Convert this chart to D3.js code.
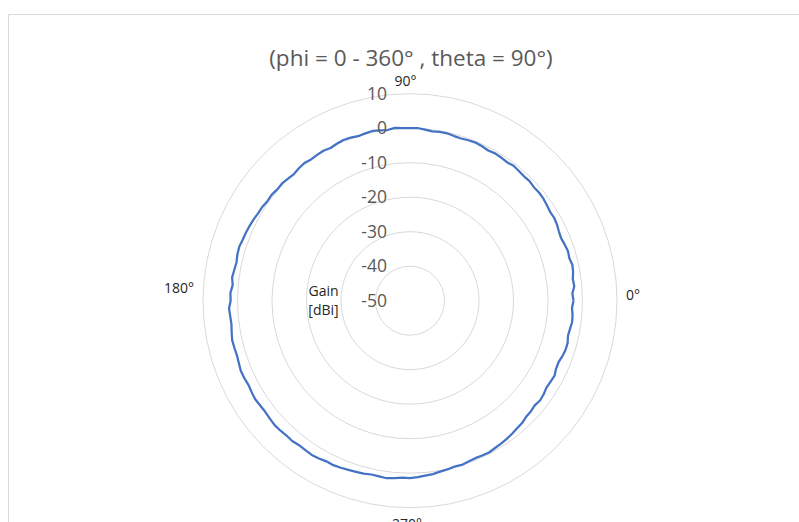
<!DOCTYPE html>
<html>
<head>
<meta charset="utf-8">
<script src="https://cdn.jsdelivr.net/npm/d3@7"></script>
<style>
  html, body { margin: 0; padding: 0; background: #fff; }
  svg { display: block; }
</style>
</head>
<body>
<svg id="chart" width="799" height="522"></svg>
<script>
// ---- data ----
const title = "(phi = 0 - 360° , theta = 90°)";
const radialTicks = [-50, -40, -30, -20, -10, 0, 10];
const angleLabels = ["0°", "90°", "180°", "270°"];
const angleLabelValues = [0, 90, 180, 270];
const axisTitle = ["Gain", "[dBi]"];
const phi = [
  0,2.5,5,7.5, 10,12.5,15,17.5, 20,22.5,25,27.5, 30,32.5,35,37.5,
  40,42.5,45,47.5, 50,52.5,55,57.5, 60,62.5,65,67.5, 70,72.5,75,77.5,
  80,82.5,85,87.5, 90,92.5,95,97.5, 100,102.5,105,107.5, 110,112.5,115,117.5,
  120,122.5,125,127.5, 130,132.5,135,137.5, 140,142.5,145,147.5, 150,152.5,155,157.5,
  160,162.5,165,167.5, 170,172.5,175,177.5, 180,182.5,185,187.5, 190,192.5,195,197.5,
  200,202.5,205,207.5, 210,212.5,215,217.5, 220,222.5,225,227.5, 230,232.5,235,237.5,
  240,242.5,245,247.5, 250,252.5,255,257.5, 260,262.5,265,267.5, 270,272.5,275,277.5,
  280,282.5,285,287.5, 290,292.5,295,297.5, 300,302.5,305,307.5, 310,312.5,315,317.5,
  320,322.5,325,327.5, 330,332.5,335,337.5, 340,342.5,345,347.5, 350,352.5,355,357.5,
  360];
const gain = [
  -2.6,-2.9,-2.2,-2.4, -2.0,-1.8,-2.2,-2.0, -2.3,-2.6,-2.4,-2.0, -1.8,-1.9,-1.6,-1.3,
  -1.2,-1.3,-1.0,-1.1, -0.9,-0.7,-1.0,-0.8, -0.7,-0.9,-0.6,-0.4, -0.5,-0.7,-0.6,-0.3,
  -0.3,-0.5,-0.2,0.1, 0.0,0.1,0.3,-0.1, 0.1,0.4,0.2,0.0, 0.3,0.4,0.2,-0.1,
  0.2,0.1,0.0,0.3, 0.1,-0.2,0.0,0.3, 0.2,0.5,0.4,0.7, 0.8,1.1,1.3,1.5,
  1.6,1.9,1.8,1.5, 1.7,2.0,1.6,2.1, 2.0,2.5,2.3,2.2, 2.5,2.8,2.7,2.6,
  2.8,3.1,3.0,2.8, 3.0,3.2,3.0,2.9, 3.1,3.3,3.2,3.0, 3.1,2.8,2.9,3.0,
  2.8,2.5,2.6,2.4, 2.2,2.0,1.9,1.6, 1.7,1.9,1.6,1.3, 1.4,1.2,0.9,0.7,
  0.3,0.1,-0.2,-0.1, -0.4,-0.6,-0.5,-0.4, -0.7,-0.9,-1.1,-1.4, -1.7,-1.9,-2.4,-2.5,
  -2.8,-2.5,-2.7,-3.1, -3.0,-2.8,-3.3,-3.4, -3.0,-2.7,-2.7,-3.1, -2.9,-2.6,-2.7,-3.0,
  -2.6];

// ---- layout ----
const svg = d3.select("#chart");
const cx = 410, cy = 300.7, R = 207;
const font = "'Open Sans', 'Noto Sans', sans-serif";

// chart frame
svg.append("path")
  .attr("d", "M8.5,522 L8.5,14.5 L799,14.5")
  .attr("fill", "none").attr("stroke", "#d9d9d9").attr("stroke-width", 1);

const r = d3.scaleLinear().domain([-50, 10]).range([0, R]);
const a = d3.scaleLinear().domain([0, 360]).range([Math.PI / 2, Math.PI / 2 - 2 * Math.PI]);

const g = svg.append("g").attr("transform", `translate(${cx},${cy})`);

// rings
g.selectAll("circle.ring").data(radialTicks.filter(d => d > -50)).enter()
  .append("circle").attr("class", "ring")
  .attr("r", d => r(d))
  .attr("fill", "none").attr("stroke", "#d9d9d9").attr("stroke-width", 1);

// data line
const line = d3.lineRadial()
  .angle((d, i) => a(phi[i]))
  .radius(d => r(d))
  .curve(d3.curveLinear);
g.append("path")
  .datum(gain)
  .attr("d", line)
  .attr("fill", "none")
  .attr("stroke", "#4472c4")
  .attr("stroke-width", 2.25)
  .attr("stroke-linejoin", "round");

// radial tick labels
g.selectAll("text.rt").data(radialTicks).enter()
  .append("text").attr("class", "rt")
  .attr("x", -23)
  .attr("y", d => -r(d))
  .attr("dy", "0.35em")
  .attr("text-anchor", "end")
  .attr("font-family", font)
  .attr("font-size", 17.5)
  .attr("fill", "#595959")
  .text(d => d);

// angle labels (small per-label offsets as placed in the original)
const pad = 9;
const labelDx = {0: 0, 90: -4.5, 180: 0, 270: -3};
const labelDy = {0: -5.5, 90: 3, 180: -13, 270: 0};
g.selectAll("text.al").data(angleLabelValues).enter()
  .append("text").attr("class", "al")
  .attr("x", d => Math.cos(d * Math.PI / 180) * (R + pad) + labelDx[d])
  .attr("y", d => -Math.sin(d * Math.PI / 180) * (R + pad) + labelDy[d])
  .attr("text-anchor", d => d === 0 ? "start" : d === 180 ? "end" : "middle")
  .attr("dy", d => d === 90 ? "-0.1em" : d === 270 ? "0.85em" : "0.35em")
  .attr("font-family", font)
  .attr("font-size", 14)
  .attr("fill", "#262626")
  .text((d, i) => angleLabels[i]);

// axis title
g.append("text")
  .attr("text-anchor", "middle")
  .attr("font-family", font)
  .attr("font-size", 14)
  .attr("fill", "#262626")
  .selectAll("tspan").data(axisTitle).enter()
  .append("tspan")
  .attr("x", -86.5)
  .attr("y", (d, i) => i === 0 ? -10 : 9.5)
  .attr("dy", "0.35em")
  .text(d => d);

// title
svg.append("text")
  .attr("x", 411).attr("y", 65.5)
  .attr("text-anchor", "middle")
  .attr("font-family", font)
  .attr("font-size", 22.5)
  .attr("fill", "#595959")
  .text(title);
</script>
</body>
</html>
